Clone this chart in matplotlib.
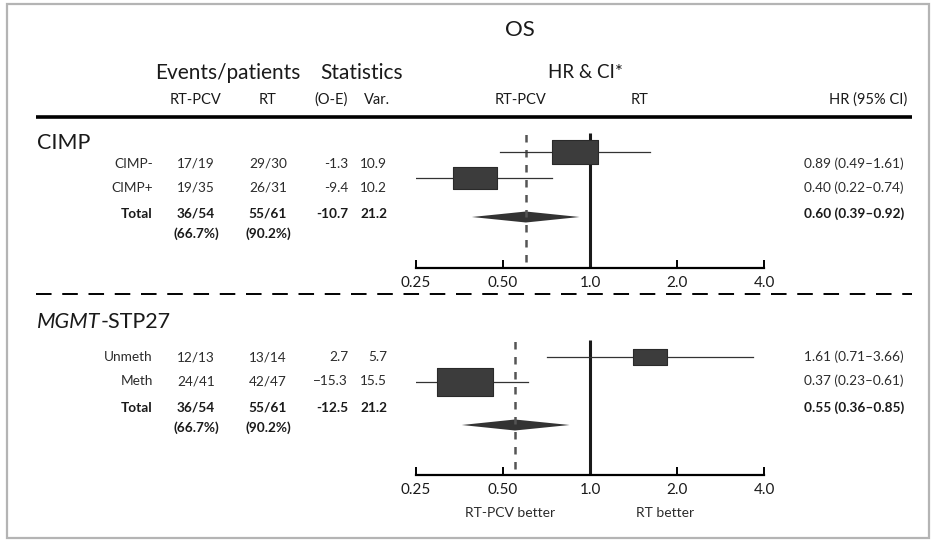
import matplotlib
matplotlib.use("Agg")
import matplotlib.pyplot as plt
from matplotlib.path import Path
from matplotlib.patches import Rectangle
from matplotlib.ticker import NullLocator
import numpy as np

plt.rcParams['font.family'] = ['Lato', 'DejaVu Sans']

# ---- data ----
cimp_groups = ["CIMP-", "CIMP+"]
cimp_ev_rtpcv = ["17/19", "19/35"]
cimp_ev_rt = ["29/30", "26/31"]
cimp_oe = [-1.3, -9.4]
cimp_var = [10.9, 10.2]
cimp_hr = [0.89, 0.40]
cimp_lo = [0.49, 0.22]
cimp_hi = [1.61, 0.74]
cimp_total = {"rtpcv": "36/54", "rt": "55/61", "pct_rtpcv": "(66.7%)", "pct_rt": "(90.2%)",
              "oe": -10.7, "var": 21.2, "hr": 0.60, "lo": 0.39, "hi": 0.92}

mgmt_groups = ["Unmeth", "Meth"]
mgmt_ev_rtpcv = ["12/13", "24/41"]
mgmt_ev_rt = ["13/14", "42/47"]
mgmt_oe = [2.7, -15.3]
mgmt_var = [5.7, 15.5]
mgmt_hr = [1.61, 0.37]
mgmt_lo = [0.71, 0.23]
mgmt_hi = [3.66, 0.61]
mgmt_total = {"rtpcv": "36/54", "rt": "55/61", "pct_rtpcv": "(66.7%)", "pct_rt": "(90.2%)",
              "oe": -12.5, "var": 21.2, "hr": 0.55, "lo": 0.36, "hi": 0.85}

hr_ticks = [0.25, 0.5, 1.0, 2.0, 4.0]
hr_ticklabels = ["0.25", "0.50", "1.0", "2.0", "4.0"]

# ---- layout (pixels) ----
W, H = 937, 543
X0, X1 = 416, 764          # forest plot x extent (0.25 .. 4.0)
TXT = "#2b2b2b"
DARK = "#1a1a1a"

fig = plt.figure(figsize=(W / 100, H / 100), dpi=100)
bg = fig.add_axes([0, 0, 1, 1])
bg.set_xlim(0, W)
bg.set_ylim(H, 0)
bg.axis("off")

bg.add_patch(Rectangle((7, 4), 922, 534, fill=False, edgecolor="#b4b4b4", lw=1.6))

# headers
bg.text(520, 30, "OS", ha="center", va="center", fontsize=16, color=DARK)
bg.text(228, 73, "Events/patients", ha="center", va="center", fontsize=15, color=DARK)
bg.text(362, 73, "Statistics", ha="center", va="center", fontsize=15, color=DARK)
bg.text(586, 73, "HR & CI*", ha="center", va="center", fontsize=13.5, color=DARK)
for x, s in [(196, "RT-PCV"), (268, "RT"), (331, "(O-E)"), (377, "Var."), (521, "RT-PCV"), (640, "RT")]:
    bg.text(x, 100, s, ha="center", va="center", fontsize=10.5, color=DARK)
bg.text(907, 100, "HR (95% CI)", ha="right", va="center", fontsize=10.5, color=DARK)
bg.plot([36, 912], [117, 117], color="black", lw=2.6, solid_capstyle="butt")

# dashed separator between sections
bg.plot([36, 912], [294, 294], color="black", lw=1.4, dashes=(8, 5.5))

rect_marker = Path([(-1, -0.5), (1, -0.5), (1, 0.5), (-1, 0.5), (-1, -0.5)],
                   [Path.MOVETO, Path.LINETO, Path.LINETO, Path.LINETO, Path.CLOSEPOLY])


def table_rows(groups, ev1, ev2, oe, var, hr, lo, hi, tot, rows_y, tot_y, minus="-"):
    for i, g in enumerate(groups):
        y = rows_y[i]
        bg.text(153, y, g, ha="right", va="center", fontsize=9.8, color=TXT)
        bg.text(196, y, ev1[i], ha="center", va="center", fontsize=9.8, color=TXT)
        bg.text(268, y, ev2[i], ha="center", va="center", fontsize=9.8, color=TXT)
        bg.text(348, y, f"{oe[i]:.1f}".replace("-", minus), ha="right", va="center", fontsize=9.8, color=TXT)
        bg.text(387, y, f"{var[i]:.1f}", ha="right", va="center", fontsize=9.8, color=TXT)
        bg.text(854, y, f"{hr[i]:.2f} ({lo[i]:.2f}\u2013{hi[i]:.2f})", ha="center", va="center",
                fontsize=9.8, color=TXT)
    kw = dict(va="center", fontsize=9.8, color=DARK, fontweight="bold")
    bg.text(153, tot_y, "Total", ha="right", **kw)
    bg.text(196, tot_y, tot["rtpcv"], ha="center", **kw)
    bg.text(268, tot_y, tot["rt"], ha="center", **kw)
    bg.text(196, tot_y + 20, tot["pct_rtpcv"], ha="center", **kw)
    bg.text(268, tot_y + 20, tot["pct_rt"], ha="center", **kw)
    bg.text(348, tot_y, f"{tot['oe']:.1f}", ha="right", **kw)
    bg.text(387, tot_y, f"{tot['var']:.1f}", ha="right", **kw)
    bg.text(854, tot_y, f"{tot['hr']:.2f} ({tot['lo']:.2f}\u2013{tot['hi']:.2f})", ha="center", **kw)


def forest(top, axis_y, hr, lo, hi, var, tot, rows_y, tot_y):
    ax = fig.add_axes([X0 / W, 1 - axis_y / H, (X1 - X0) / W, (axis_y - top) / H])
    ax.set_xscale("log", base=2)
    ax.set_xlim(0.25, 4)
    ax.set_ylim(axis_y, top)
    ax.patch.set_alpha(0)
    for s in ["top", "left", "right"]:
        ax.spines[s].set_visible(False)
    ax.spines["bottom"].set_linewidth(1.6)
    ax.set_yticks([])
    ax.set_xticks(hr_ticks)
    ax.set_xticklabels(hr_ticklabels)
    ax.xaxis.set_minor_locator(NullLocator())
    ax.tick_params(axis="x", direction="in", length=6, width=1.4, pad=6, labelsize=11,
                   labelcolor=DARK)
    ax.plot([1, 1], [axis_y, top + 5], color=DARK, lw=2.2, solid_capstyle="butt")
    ax.plot([tot["hr"]] * 2, [axis_y - 6, top + 5], color="#555555", lw=1.8, dashes=(3, 3))
    for i in range(len(hr)):
        y = rows_y[i]
        ax.plot([lo[i], hi[i]], [y, y], color="#333333", lw=0.9)
        ax.plot(hr[i], y, marker=rect_marker, ms=0.72 * 14 * np.sqrt(var[i]),
                mfc="#3c3c3c", mec="#2a2a2a", mew=0.8, ls="none")
    h = 5.5
    ax.fill([tot["lo"], tot["hr"], tot["hi"], tot["hr"]],
            [tot_y, tot_y - h, tot_y, tot_y + h], color="#333333", lw=0)
    return ax


# CIMP section
bg.text(37, 143, "CIMP", ha="left", va="center", fontsize=15.5, color=DARK)
table_rows(cimp_groups, cimp_ev_rtpcv, cimp_ev_rt, cimp_oe, cimp_var, cimp_hr, cimp_lo, cimp_hi,
           cimp_total, [164, 188], 214)
forest(128, 268, cimp_hr, cimp_lo, cimp_hi, cimp_var, cimp_total, [152, 178], 217)

# MGMT section
t1 = bg.text(37, 322, "MGMT", ha="left", va="center", fontsize=15.5, color=DARK, style="italic")
fig.canvas.draw()
bb = t1.get_window_extent().transformed(bg.transData.inverted())
bg.text(bb.x1, 322, "-STP27", ha="left", va="center", fontsize=15.5, color=DARK)
table_rows(mgmt_groups, mgmt_ev_rtpcv, mgmt_ev_rt, mgmt_oe, mgmt_var, mgmt_hr, mgmt_lo, mgmt_hi,
           mgmt_total, [357, 381], 408, minus="\u2212")
forest(335, 475, mgmt_hr, mgmt_lo, mgmt_hi, mgmt_var, mgmt_total, [357, 382], 425)

bg.text(510, 513, "RT-PCV better", ha="center", va="center", fontsize=10, color=TXT)
bg.text(665, 513, "RT better", ha="center", va="center", fontsize=10, color=TXT)

fig.savefig("out.png", dpi=100)
